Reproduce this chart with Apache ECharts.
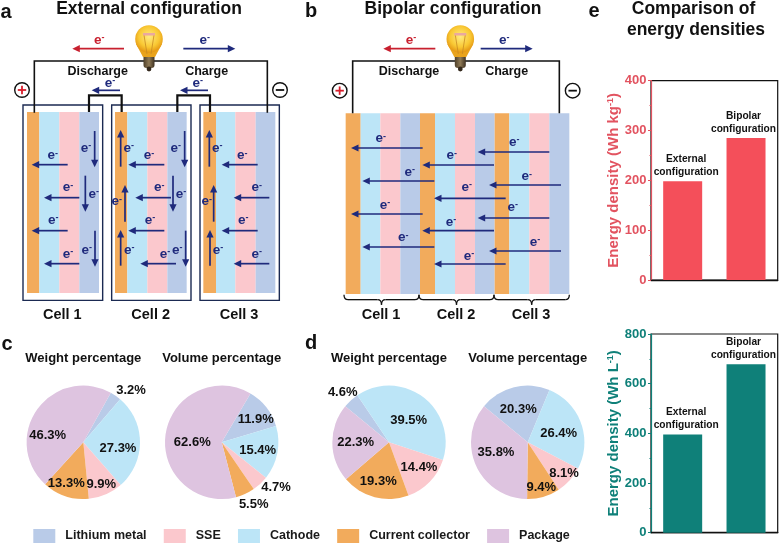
<!DOCTYPE html>
<html>
<head>
<meta charset="utf-8">
<style>html,body{margin:0;padding:0;background:#fff}#c{width:780px;height:545px}</style>
<script src="https://cdn.jsdelivr.net/npm/echarts@6/dist/echarts.min.js"></script>
</head>
<body>
<div id="c"></div>
<script>
var materials = ['Lithium metal', 'SSE', 'Cathode', 'Current collector', 'Package'];
var pieOrder = ['Lithium metal', 'Cathode', 'SSE', 'Current collector', 'Package'];
var extWeight = [3.2, 27.3, 9.9, 13.3, 46.3];
var extVolume = [11.9, 15.4, 4.7, 5.5, 62.6];
var bipWeight = [4.6, 39.5, 14.4, 19.3, 22.3];
var bipVolume = [20.3, 26.4, 8.1, 9.4, 35.8];
var configs = ['External configuration', 'Bipolar configuration'];
var gravimetric = [198, 285];
var volumetric = [395, 678];

var colors = {'Lithium metal':'#B9CBE8','SSE':'#FBC8CD','Cathode':'#BCE5F7','Current collector':'#F2AB5C','Package':'#DEC4E0'};
var FONT = '"Liberation Sans", Arial, sans-serif';
var NAVY = '#1F2A7C', RED = '#C8202F', INK = '#111';
var els = [];

function P(v){ return v / 3; }
function text(x, y, s, size, color, extra){
  var st = {x:x, y:y, text:s, font:'bold '+size+'px '+FONT, fill:color||INK, textAlign:'center', textVerticalAlign:'middle'};
  if (extra) for (var k in extra) st[k] = extra[k];
  els.push({type:'text', z:10, style:st, silent:true});
}
function eMinus(x, y, color, size){
  size = size || 13.5;
  text(x, y, '{a|e}{s|-}', size, color, {rich:{
    a:{font:'bold '+size+'px '+FONT, fill:color},
    s:{font:'bold 9px '+FONT, fill:color, verticalAlign:'top', padding:[0,0,5,0]}
  }});
}
function line(pts, color, w, z){
  els.push({type:'polyline', z:z||6, silent:true, shape:{points:pts}, style:{stroke:color, lineWidth:w, fill:null, lineJoin:'miter'}});
}
function rect(x, y, w, h, fill, stroke, lw){
  els.push({type:'rect', z:stroke?3:2, silent:true, shape:{x:x,y:y,width:w,height:h},
    style:{fill:fill||'transparent', stroke:stroke||null, lineWidth:lw||0}});
}
function arrow(x1, y1, x2, y2, color){
  x1=P(x1);y1=P(y1);x2=P(x2);y2=P(y2);
  var dx=x2-x1, dy=y2-y1, L=Math.sqrt(dx*dx+dy*dy), ux=dx/L, uy=dy/L, hl=7.5, hw=3.6;
  var bx=x2-ux*hl, by=y2-uy*hl;
  line([[x1,y1],[bx+ux,by+uy]], color, 1.7);
  els.push({type:'polygon', z:7, silent:true, shape:{points:[[x2,y2],[bx-uy*hw,by+ux*hw],[bx+uy*hw,by-ux*hw]]}, style:{fill:color}});
}
function stripes(list, y0, y1){
  for (var i=0;i<list.length-1;i++){
    var c = [colors['Current collector'],colors['Cathode'],colors['SSE'],colors['Lithium metal']][i%4];
    rect(P(list[i]), P(y0), P(list[i+1]-list[i]), P(y1-y0), c);
  }
}
function bulb(cx){
  var cy=39;
  els.push({type:'polygon', z:8, silent:true, shape:{points:[[cx-13,cy+5],[cx-6,cy+18],[cx+6,cy+18],[cx+13,cy+5]]},
    style:{fill:'#E9A31C'}});
  els.push({type:'circle', z:8, silent:true, shape:{cx:cx,cy:cy,r:13.8}, style:{fill:{type:'radial',x:0.5,y:0.42,r:0.62,
    colorStops:[{offset:0,color:'#FFEB80'},{offset:0.6,color:'#F9C833'},{offset:1,color:'#DF8A0C'}]}}});
  line([[cx-5,cy-4],[cx-2,cy+15]], '#C88A22', 0.8, 9);
  line([[cx+5,cy-4],[cx+2,cy+15]], '#C88A22', 0.8, 9);
  els.push({type:'rect', z:9, silent:true, shape:{x:cx-6,y:cy-6,width:12,height:2.5}, style:{fill:'#E9A8A0'}});
  els.push({type:'rect', z:9, silent:true, shape:{x:cx-5.5,y:cy+18,width:11,height:11,r:[0,0,3,3]},
    style:{fill:{type:'linear',x:0,y:0,x2:1,y2:0,colorStops:[{offset:0,color:'#4E3F2A'},{offset:0.5,color:'#8F7A56'},{offset:1,color:'#3E3122'}]}}});
  els.push({type:'circle', z:9, silent:true, shape:{cx:cx,cy:cy+30,r:2.4}, style:{fill:'#33281C'}});
}
function sign(cx, cy, plus){
  els.push({type:'circle', z:8, silent:true, shape:{cx:cx,cy:cy,r:7.3}, style:{fill:'#fff',stroke:INK,lineWidth:1.4}});
  var col = plus ? '#D81E2C' : INK;
  line([[cx-4.2,cy],[cx+4.2,cy]], col, 1.8, 9);
  if (plus) line([[cx,cy-4.2],[cx,cy+4.2]], col, 1.8, 9);
}
function quad(x1,y1,cx,cy,x2,y2){
  els.push({type:'bezierCurve', z:6, silent:true, shape:{x1:x1,y1:y1,x2:x2,y2:y2,cpx1:cx,cpy1:cy}, style:{stroke:INK,lineWidth:1.3,fill:null}});
}
function brace(x0, x1, yTop, yMid, yTip){
  var m=(x0+x1)/2, r=4;
  quad(x0,yTop,x0,yMid,x0+r,yMid);
  line([[x0+r,yMid],[m-r,yMid]], INK, 1.3);
  quad(m-r,yMid,m,yMid,m,yTip);
  quad(m,yTip,m,yMid,m+r,yMid);
  line([[m+r,yMid],[x1-r,yMid]], INK, 1.3);
  quad(x1-r,yMid,x1,yMid,x1,yTop);
}

/* ---------- panel a ---------- */
stripes([81,118,178,238,297],336,879);
stripes([345,382,442,502,560],336,879);
stripes([610,648,706,767,826],336,879);
rect(P(69),P(315),P(239),P(586),null,'#1B2A52',1.4);
rect(P(335),P(315),P(238),P(586),null,'#1B2A52',1.4);
rect(P(600),P(315),P(238),P(586),null,'#1B2A52',1.4);
line([[P(103),P(338)],[P(103),P(183)],[P(802),P(183)],[P(802),P(338)]], INK, 1.6);
line([[P(267),P(336)],[P(267),P(286)],[P(365),P(286)],[P(365),P(336)]], INK, 2.2);
line([[P(532),P(336)],[P(532),P(286)],[P(630),P(286)],[P(630),P(336)]], INK, 2.2);
bulb(149);
sign(P(66),P(270),true); sign(280,90,false);
arrow(372,146,217,146,RED); arrow(550,146,706,146,NAVY);
eMinus(P(298),P(120),RED); eMinus(P(614),P(120),NAVY);
text(P(293),P(214),'Discharge',12.5); text(P(620),P(214),'Charge',12.5);
arrow(360,271,275,271,NAVY); arrow(624,271,540,271,NAVY);
eMinus(P(330),P(250),NAVY); eMinus(P(593),P(250),NAVY);
var aArrows = [
 [203,494,95,494],[238,593,132,593],[203,692,95,692],[238,791,132,791],
 [284,393,284,502],[256,527,256,635],[285,692,285,800],
 [493,494,385,494],[513,593,406,593],[493,692,385,692],[528,791,421,791],
 [554,393,554,502],[519,527,519,635],[557,692,557,800],
 [362,500,362,390],[375,665,375,555],[362,797,362,690],
 [773,494,665,494],[808,593,701,593],[773,692,665,692],[808,791,701,791],
 [628,500,628,390],[641,665,641,555],[630,797,630,690]];
aArrows.forEach(function(a){arrow(a[0],a[1],a[2],a[3],NAVY);});
var aLabels = [[158,467],[204,563],[160,660],[204,762],[258,445],[281,583],[260,750],
 [447,467],[478,563],[450,660],[495,762],[527,445],[543,583],[532,750],[386,445],[350,605],[388,750],
 [727,467],[770,563],[730,660],[770,762],[652,445],[620,605],[654,750]];
aLabels.forEach(function(a){eMinus(P(a[0]),P(a[1]),NAVY);});
text(P(187),315,'Cell 1',14.5); text(P(452),315,'Cell 2',14.5); text(P(717),315,'Cell 3',14.5);

/* ---------- panel b ---------- */
var bx = function(v){ return 840 + v; };
stripes([197,242,301,361,420,465,525,585,644,688,748,808,868].map(bx),340,882);
line([[P(bx(218)),P(340)],[P(bx(218)),P(183)],[P(bx(838)),P(183)],[P(bx(838)),P(340)]], INK, 1.6);
bulb(460.3);
sign(P(bx(179)),P(272),true); sign(P(bx(878)),P(272),false);
arrow(bx(466),146,bx(310),146,RED); arrow(bx(602),146,bx(758),146,NAVY);
eMinus(P(bx(393)),P(120),RED); eMinus(P(bx(673)),P(120),NAVY);
text(P(bx(387)),P(214),'Discharge',12.5); text(P(bx(680)),P(214),'Charge',12.5);
var bArrows = [[428,444,213],[642,495,427],[463,543,247],[677,595,462],[428,642,213],[642,692,427],[463,741,247],[677,792,462],[808,456,593],[843,555,627],[808,654,593],[843,753,627]];
bArrows.forEach(function(a){arrow(bx(a[0]),a[1],bx(a[2]),a[1],NAVY);});
var bLabels = [[302,416],[515,467],[389,517],[560,561],[315,616],[513,667],[370,713],[567,768],[703,427],[740,530],[698,622],[765,727]];
bLabels.forEach(function(a){eMinus(P(bx(a[0])),P(a[1]),NAVY);});
brace(P(bx(192)),P(bx(417)),P(884),P(899),P(914));
brace(P(bx(417)),P(bx(642)),P(884),P(899),P(914));
brace(P(bx(642)),P(bx(868)),P(884),P(899),P(914));
text(P(bx(303)),315,'Cell 1',14.5); text(P(bx(528)),315,'Cell 2',14.5); text(P(bx(753)),315,'Cell 3',14.5);

/* ---------- headings ---------- */
text(6,12,'a',20); text(311,11,'b',20); text(7,344,'c',20); text(311,343,'d',20); text(594,11,'e',20);
function heading(x,y,s,size){ return {text:s,left:x,top:y,textAlign:'center',textVerticalAlign:'middle',
  textStyle:{fontFamily:FONT,fontWeight:'bold',fontSize:size,color:INK},padding:0}; }
var titles = [
  heading(149,9,'External configuration',17.5), heading(453,9,'Bipolar configuration',17.5),
  heading(693.5,9,'Comparison of',17.5), heading(696,30,'energy densities',17.5),
  heading(83.3,358.3,'Weight percentage',13), heading(221.7,358.3,'Volume percentage',13),
  heading(389,358.3,'Weight percentage',13), heading(527.7,358.3,'Volume percentage',13)
];

/* ---------- pies ---------- */
function pieSeries(values, cx, startAngle, labelPos){
  return {type:'pie', center:[cx,442.3], radius:56.7, startAngle:startAngle, clockwise:true, animation:false,
    silent:true, avoidLabelOverlap:false, labelLine:{show:false},
    data:pieOrder.map(function(n,i){return {name:n,value:values[i],itemStyle:{color:colors[n]}};}),
    label:{show:true,position:'inside',formatter:'{c}%',fontFamily:FONT,fontWeight:'bold',fontSize:13,color:INK},
    labelLayout:function(p){var q=labelPos[p.dataIndex];return {x:q[0],y:q[1],align:'center',verticalAlign:'middle'};}
  };
}
var series = [
  pieSeries(extWeight,83.3,61,[[131,390.3],[118,448.7],[101.3,484],[66.3,483.7],[47.7,435.7]]),
  pieSeries(extVolume,221.7,59.5,[[255.7,419.3],[257.7,450.3],[276,487.7],[253.7,504.3],[192.3,442]]),
  pieSeries(bipWeight,389,140.5,[[342.7,392.3],[408.7,420],[419,467],[378.3,481.7],[355.7,442]]),
  pieSeries(bipVolume,527.7,140.5,[[518.3,409],[558.7,433.3],[564,473],[541.3,487.7],[496,452.7]])
];

/* ---------- bars ---------- */
function barLabel(p){ return p.name.replace(' ','\n'); }
var labelShift = [[3.5,0],[-2.5,0]];
function barSeries(values, idx, color){
  return {type:'bar', xAxisIndex:idx, yAxisIndex:idx, barWidth:39, animation:false, silent:true,
    data:values.map(function(v,i){return {value:v,label:{offset:labelShift[i]}};}),
    itemStyle:{color:color},
    label:{show:true,position:'top',distance:2.5,formatter:barLabel,fontFamily:FONT,fontWeight:'bold',fontSize:10.2,lineHeight:13,color:INK}};
}
series.push(barSeries(gravimetric,0,'#F44F5A'));
series.push(barSeries(volumetric,1,'#0F8079'));
function yAxis(idx,max,step,color,name,sup,gap){
  return {type:'value',gridIndex:idx,min:0,max:max,interval:step,position:'left',
    name:'{a|'+name+'}{s|'+sup+'}{a|)}',nameLocation:'middle',nameGap:gap,nameRotate:90,
    nameTextStyle:{rich:{
      a:{fontFamily:FONT,fontWeight:'bold',fontSize:15,color:color},
      s:{fontFamily:FONT,fontWeight:'bold',fontSize:9,color:color,verticalAlign:'top',padding:[0,0,6,0]}}},
    axisLine:{show:true,onZero:false,lineStyle:{color:color,width:1.2}},
    axisTick:{show:true,length:3,lineStyle:{color:color,width:1}},
    minorTick:{show:true,splitNumber:2,length:1.5,lineStyle:{color:color,width:1}},
    splitLine:{show:false},minorSplitLine:{show:false},
    axisLabel:{margin:4.5,fontFamily:FONT,fontWeight:'bold',fontSize:13,color:color}};
}
function xAxis(idx){
  return {type:'category',gridIndex:idx,data:configs,axisTick:{show:false},axisLabel:{show:false},
    axisLine:{lineStyle:{color:INK,width:1.4}}};
}

var option = {
  animation:false,
  title:titles,
  legend:{left:33.3,top:529,icon:'rect',itemWidth:22,itemHeight:14,itemGap:17.2,selectedMode:false,data:materials,
    textStyle:{fontFamily:FONT,fontWeight:'bold',fontSize:12.5,color:'#1a1a1a',padding:[0,0,0,5]},padding:0},
  grid:[
    {left:651,top:80.7,width:126.7,height:199.3,show:true,borderColor:INK,borderWidth:1.2,backgroundColor:'transparent'},
    {left:651,top:334,width:126.7,height:198.7,show:true,borderColor:INK,borderWidth:1.2,backgroundColor:'transparent'}
  ],
  xAxis:[xAxis(0),xAxis(1)],
  yAxis:[
    yAxis(0,400,100,'#E25360','Energy density (Wh kg','-1',25),
    yAxis(1,800,200,'#0F8079','Energy density (Wh L','-1',25)
  ],
  series:series,
  graphic:{elements:els}
};
var chart = echarts.init(document.getElementById('c'));
chart.setOption(option);
</script>
</body>
</html>
